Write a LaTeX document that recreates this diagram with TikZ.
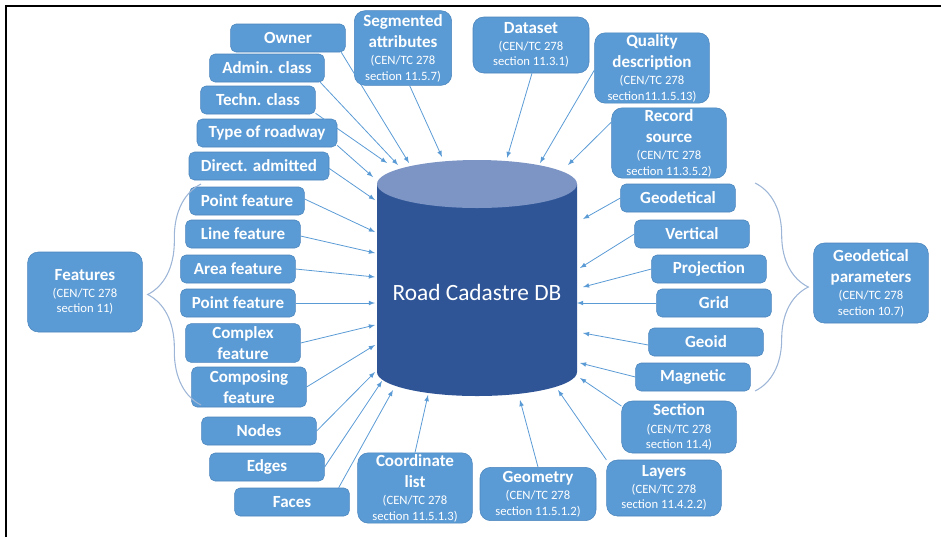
\documentclass[tikz,border=0pt]{standalone}
\usepackage{fontspec}
\setmainfont{Carlito}
\usetikzlibrary{calc, positioning, arrows, decorations.pathreplacing}

\definecolor{boxblue}{HTML}{5B9BD5}
\definecolor{boxline}{HTML}{4A84BC}
\definecolor{dbbody}{HTML}{2F5597}
\definecolor{dbtop}{HTML}{7D95C5}
\definecolor{bracecol}{HTML}{9DB5D6}

\newcommand{\subtxt}[1]{{\fontsize{9.5}{11}\selectfont\mdseries #1}}

\begin{document}
\begin{tikzpicture}[x=0.75pt, y=-0.75pt, >=latex,
  box/.style={draw=boxline, fill=boxblue, rounded corners=4pt, minimum width=86pt, minimum height=21pt, inner sep=1pt, text=white, align=center, font=\fontsize{12.75}{16}\selectfont\bfseries},
  bigbox/.style={box, rounded corners=8pt},
  arr/.style={->, draw=boxblue, line width=0.6pt},
  brc/.style={draw=bracecol, line width=0.8pt, decorate, decoration={brace, amplitude=40pt}}]
  \useasboundingbox (0,0) rectangle (941,537);
  \draw[line width=1.5pt] (6,537) -- (6,6) -- (941,6);

  % database
  \fill[dbbody] (377,184) -- (377,372) arc (180:0:100 and 24) -- (577,184) -- cycle;
  \fill[dbtop] (477,184) ellipse (100 and 24);
  \node[text=white, font=\fontsize{17.5}{20}\selectfont] (db) at (477,292) {Road Cadastre DB};

  % attributes, top left
  \node[box] (owner) at (288,38) {Owner};
  \node[box] (admin) at (267,68) {Admin. class};
  \node[box] (techn) at (258,100) {Techn. class};
  \node[box, minimum width=105pt] (roadway) at (267,133) {Type of roadway};
  \node[box, minimum width=105pt] (direct) at (259,166) {Direct. admitted};

  % top
  \node[bigbox, minimum width=73pt, minimum height=56pt] (seg) at (403,48) {Segmented\\attributes\\[-3pt]\subtxt{(CEN/TC 278}\\[-4.5pt]\subtxt{section 11.5.7)}};
  \node[bigbox, minimum width=87pt, minimum height=42pt] (dataset) at (531,45) {Dataset\\[-3pt]\subtxt{(CEN/TC 278}\\[-4.5pt]\subtxt{section 11.3.1)}};
  \node[bigbox, minimum height=49pt] (quality) at (652,68) {Quality\\description\\[-3pt]\subtxt{(CEN/TC 278}\\[-4.5pt]\subtxt{section11.1.5.13)}};
  \node[bigbox, minimum height=51pt] (record) at (669,143) {Record\\source\\[-3pt]\subtxt{(CEN/TC 278}\\[-4.5pt]\subtxt{section 11.3.5.2)}};

  % features
  \node[box] (pf1) at (247,201) {Point feature};
  \node[box] (lf) at (243,234) {Line feature};
  \node[box] (af) at (238,269) {Area feature};
  \node[box] (pf2) at (238,303) {Point feature};
  \node[box, minimum height=29pt] (cf) at (243,343) {Complex\\feature};
  \node[box, minimum height=30pt] (comp) at (249,387) {Composing\\feature};
  \node[bigbox, minimum height=60pt] (features) at (85,292) {Features\\[-3pt]\subtxt{(CEN/TC 278}\\[-4.5pt]\subtxt{section 11)}};
  \coordinate (lbt) at (201,184);
  \coordinate (lbb) at (201,405);
  \draw[brc] (lbb) -- (lbt);

  % topology
  \node[box] (nodes) at (259,431) {Nodes};
  \node[box] (edges) at (267,467) {Edges};
  \node[box] (faces) at (292,502) {Faces};

  % bottom
  \node[bigbox, minimum height=52pt] (coord) at (415,488) {Coordinate\\list\\[-3pt]\subtxt{(CEN/TC 278}\\[-4.5pt]\subtxt{section 11.5.1.3)}};
  \node[bigbox, minimum width=87pt, minimum height=40pt] (geometry) at (538,494) {Geometry\\[-3pt]\subtxt{(CEN/TC 278}\\[-4.5pt]\subtxt{section 11.5.1.2)}};
  \node[bigbox, minimum height=42pt] (layers) at (664,488) {Layers\\[-3pt]\subtxt{(CEN/TC 278}\\[-4.5pt]\subtxt{section 11.4.2.2)}};
  \node[bigbox, minimum height=39pt] (section) at (679,427) {Section\\[-3pt]\subtxt{(CEN/TC 278}\\[-4.5pt]\subtxt{section 11.4)}};

  % geodetical parameters
  \node[box] (geod) at (678,198) {Geodetical};
  \node[box] (vert) at (692,234) {Vertical};
  \node[box] (proj) at (709,269) {Projection};
  \node[box] (grid) at (714,303) {Grid};
  \node[box] (geoid) at (706,342) {Geoid};
  \node[box] (magn) at (693,377) {Magnetic};
  \node[bigbox, minimum height=60pt] (params) at (871,283) {Geodetical\\parameters\\[-3pt]\subtxt{(CEN/TC 278}\\[-4.5pt]\subtxt{section 10.7)}};
  \coordinate (rbt) at (755,183);
  \coordinate (rbb) at (755,391);
  \draw[brc] (rbt) -- (rbb);

  % arrow ends on the database
  \coordinate (owner-in) at (409,163);
  \coordinate (admin-in) at (398,165);
  \coordinate (techn-in) at (387,163);
  \coordinate (roadway-in) at (373,177);
  \coordinate (direct-in) at (375,200);
  \coordinate (seg-in) at (442,157);
  \coordinate (dataset-in) at (507,158);
  \coordinate (quality-in) at (540,163);
  \coordinate (record-in) at (568,165);
  \coordinate (pf1-in) at (375,232);
  \coordinate (lf-in) at (375,253);
  \coordinate (af-in) at (375,277);
  \coordinate (pf2-in) at (375,303);
  \coordinate (cf-in) at (375,325);
  \coordinate (comp-in) at (375,345);
  \coordinate (nodes-in) at (375,372);
  \coordinate (edges-in) at (382,381);
  \coordinate (faces-in) at (393,390);
  \coordinate (coord-in) at (428,395);
  \coordinate (geometry-in) at (520,400);
  \coordinate (layers-in) at (558,390);
  \coordinate (section-in) at (580,378);
  \coordinate (magn-in) at (580,363);
  \coordinate (geoid-in) at (583,333);
  \coordinate (grid-in) at (577,303);
  \coordinate (proj-in) at (583,287);
  \coordinate (vert-in) at (580,268);
  \coordinate (geod-in) at (583,219);

  \draw[arr] (owner.-15) -- (owner-in);
  \draw[arr] (admin.-15) -- (admin-in);
  \draw[arr] (techn.-13) -- (techn-in);
  \draw[arr] (roadway.-10) -- (roadway-in);
  \draw[arr] (direct.-2) -- (direct-in);
  \draw[arr] (seg.-80) -- (seg-in);
  \draw[arr] (dataset.-88) -- (dataset-in);
  \draw[arr] (quality.182) -- (quality-in);
  \draw[arr] (record.160) -- (record-in);
  \draw[arr] (pf1.2) -- (pf1-in);
  \draw[arr] (lf.-2) -- (lf-in);
  \draw[arr] (af.east) -- (af-in);
  \draw[arr] (pf2.east) -- (pf2-in);
  \draw[arr] (cf.east) -- (cf-in);
  \draw[arr] (comp.east) -- (comp-in);
  \draw[arr] (nodes.east) -- (nodes-in);
  \draw[arr] (edges.east) -- (edges-in);
  \draw[arr] (faces.17) -- (faces-in);
  \draw[arr] (coord.north) -- (coord-in);
  \draw[arr] (geometry.north) -- (geometry-in);
  \draw[arr] (layers.154) -- (layers-in);
  \draw[arr] (section.160) -- (section-in);
  \draw[arr] (magn.west) -- (magn-in);
  \draw[arr] (geoid.183) -- (geoid-in);
  \draw[arr] (grid.west) -- (grid-in);
  \draw[arr] (proj.west) -- (proj-in);
  \draw[arr] (vert.west) -- (vert-in);
  \draw[arr] (geod.west) -- (geod-in);
\end{tikzpicture}
\end{document}
